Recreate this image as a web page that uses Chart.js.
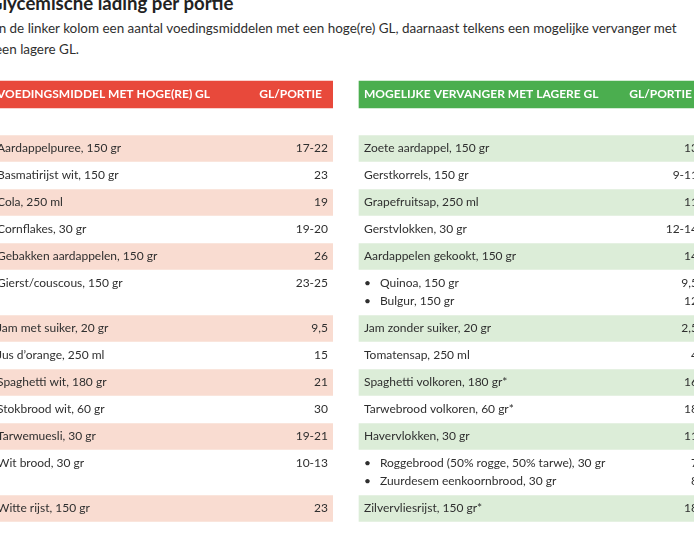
<!DOCTYPE html>
<html lang="nl">
<head>
<meta charset="utf-8">
<title>Glycemische lading per portie</title>
<script src="https://cdn.jsdelivr.net/npm/chart.js@4/dist/chart.umd.min.js"></script>
<style>
  html, body { margin: 0; padding: 0; width: 694px; height: 534px; overflow: hidden; background: #fff; }
  body { position: relative; font-family: Lato, "Open Sans", sans-serif; color: #2f2f2f; }
  h2 { position: absolute; left: -11px; top: -9px; margin: 0; font-size: 18.6px; line-height: 24px; font-weight: 700; color: #222; white-space: nowrap; }
  p.intro { position: absolute; left: -5px; top: 18px; margin: 0; font-size: 13.45px; line-height: 21px; white-space: nowrap; }
  canvas { position: absolute; top: 0; }
  #tblHigh { left: -18px; }
  #tblLow { left: 349px; }
</style>
</head>
<body>
<h2>Glycemische lading per portie</h2>
<p class="intro">In de linker kolom een aantal voedingsmiddelen met een hoge(re) GL, daarnaast telkens een mogelijke vervanger met<br>een lagere GL.</p>
<canvas id="tblHigh" width="351" height="534"></canvas>
<canvas id="tblLow" width="354" height="534"></canvas>
<script>
/* ── Data ── */
const headHigh = ['VOEDINGSMIDDEL MET HOGE(RE) GL', 'GL/PORTIE'];
const headLow = ['MOGELIJKE VERVANGER MET LAGERE GL', 'GL/PORTIE'];

const highFoods = [
  'Aardappelpuree, 150 gr', 'Basmatirijst wit, 150 gr', 'Cola, 250 ml', 'Cornflakes, 30 gr',
  'Gebakken aardappelen, 150 gr', 'Gierst/couscous, 150 gr', 'Jam met suiker, 20 gr',
  'Jus d\u2019orange, 250 ml', 'Spaghetti wit, 180 gr', 'Stokbrood wit, 60 gr',
  'Tarwemuesli, 30 gr', 'Wit brood, 30 gr', 'Witte rijst, 150 gr'
];
const highGL = ['17-22', '23', '19', '19-20', '26', '23-25', '9,5', '15', '21', '30', '19-21', '10-13', '23'];

// a sub-array is a bullet list inside one row
const lowFoods = [
  'Zoete aardappel, 150 gr', 'Gerstkorrels, 150 gr', 'Grapefruitsap, 250 ml', 'Gerstvlokken, 30 gr',
  'Aardappelen gekookt, 150 gr', ['Quinoa, 150 gr', 'Bulgur, 150 gr'], 'Jam zonder suiker, 20 gr',
  'Tomatensap, 250 ml', 'Spaghetti volkoren, 180 gr*', 'Tarwebrood volkoren, 60 gr*',
  'Havervlokken, 30 gr', ['Roggebrood (50% rogge, 50% tarwe), 30 gr', 'Zuurdesem eenkoornbrood, 30 gr'],
  'Zilvervliesrijst, 150 gr*'
];
const lowGL = ['13', '9-11', '11', '12-14', '14', ['9,5', '12'], '2,5', '4', '16', '18', '11', ['7', '8'], '18'];

/* ── Layout (pixels) ── */
const FONT = 'Lato';
const TEXT = '#2f2f2f';
const ROW_H = 27, LINE_H = 18, HEAD_Y = 94.5, FIRST_TOP = 135;
const PAD_Y = 12, CANVAS_H = 534, TICK_PAD = 5;

const lineCount = v => Array.isArray(v) ? v.length : 1;
const rowLines = highFoods.map((f, i) => Math.max(lineCount(f), lineCount(lowFoods[i])));

const rowCenters = [];
let rowTop = FIRST_TOP;
rowLines.forEach(n => {
  const h = ROW_H + LINE_H * (n - 1);
  rowCenters.push(rowTop + h / 2);
  rowTop += h;
});
const tickValues = [HEAD_Y, ...rowCenters];

// multi-line cell: bullets for lists, blank filler so single text sits on the first line
function cell(v, n, bullet) {
  const lines = Array.isArray(v) ? v.map(s => bullet ? '\u2022\u2003' + s : s) : [v];
  while (lines.length < n) lines.push('');
  return lines.length === 1 ? lines[0] : lines;
}

/* ── Table drawn as a Chart.js bar chart ── */
function drawTable(canvasId, head, foods, gl, headColor, shadeColor) {
  const canvas = document.getElementById(canvasId);
  const names = [head[0], ...foods.map((f, i) => cell(f, rowLines[i], true))];
  const values = [head[1] + '\u2002', ...gl.map((g, i) => cell(g, rowLines[i], false))];

  const tickFont = ctx => ctx.index === 0
    ? { family: FONT, size: 12, weight: 'bold' }
    : { family: FONT, size: 12, lineHeight: LINE_H + 'px' };
  const tickColor = ctx => ctx.index === 0 ? '#ffffff' : TEXT;

  const axis = (position, labels) => ({
    type: 'linear', position, reverse: true, offset: false,
    min: PAD_Y, max: CANVAS_H - PAD_Y,
    grid: { display: false, drawTicks: false, offset: false },
    border: { display: false },
    afterBuildTicks: ax => { ax.ticks = tickValues.map(v => ({ value: v })); },
    ticks: {
      mirror: true, padding: TICK_PAD, autoSkip: false, z: 1,
      font: tickFont, color: tickColor,
      callback: (v, i) => labels[i]
    }
  });

  // mirrored axes take 2*padding each side; let the row bands run on under the value column
  const inner = canvas.width - 4 * TICK_PAD;
  const xMax = inner / (inner + 2 * TICK_PAD);

  const chart = new Chart(canvas, {
    type: 'bar',
    data: {
      datasets: [
        { data: [{ y: HEAD_Y, x: [0, 1] }], backgroundColor: headColor, barThickness: 27, grouped: false, clip: false },
        {
          data: rowCenters.filter((c, i) => i % 2 === 0).map(c => ({ y: c, x: [0, 1] })),
          backgroundColor: shadeColor, barThickness: 26, grouped: false, clip: false
        }
      ]
    },
    options: {
      indexAxis: 'y',
      responsive: false,
      animation: false,
      events: [],
      layout: { padding: { top: PAD_Y, bottom: PAD_Y, left: 0, right: 0 } },
      plugins: { legend: { display: false }, tooltip: { enabled: false } },
      scales: {
        x: { type: 'linear', min: 0, max: xMax, display: false },
        y: axis('left', names),
        yv: axis('right', values)
      }
    }
  });

  // keep one value unit = one canvas pixel on the row axes
  const area = chart.chartArea;
  ['y', 'yv'].forEach(id => {
    chart.options.scales[id].min = area.top;
    chart.options.scales[id].max = area.bottom;
  });
  chart.update();
}

drawTable('tblHigh', headHigh, highFoods, highGL, '#e8493b', '#f9dcd1');
drawTable('tblLow', headLow, lowFoods, lowGL, '#4bae4f', '#dcedd8');
</script>
</body>
</html>
